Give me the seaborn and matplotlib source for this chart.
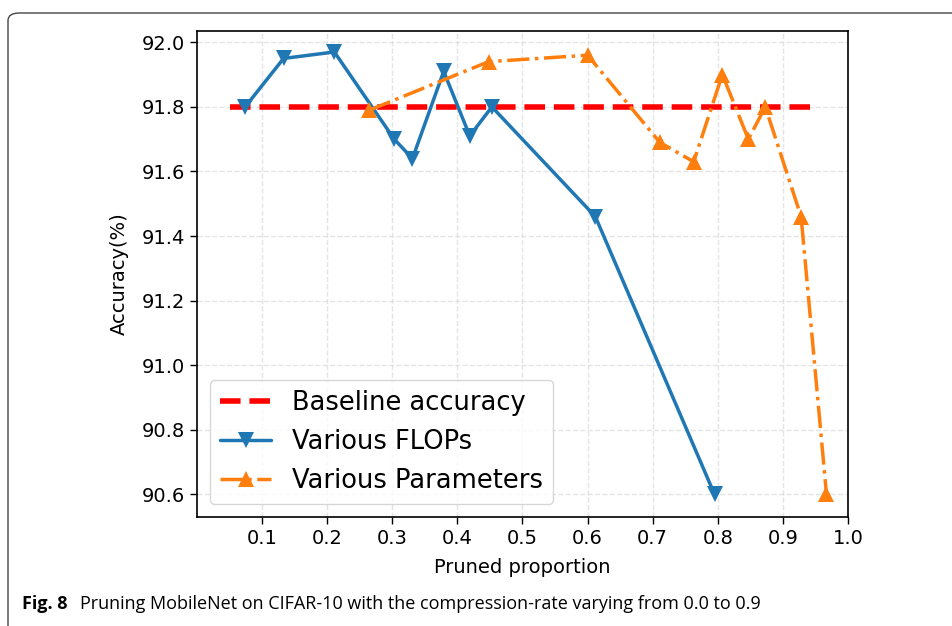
import numpy as np
import pandas as pd
import matplotlib
matplotlib.use('Agg')
import matplotlib.pyplot as plt
from matplotlib.patches import FancyBboxPatch
import seaborn as sns

# Data
flops_x = [0.074, 0.133, 0.211, 0.303, 0.331, 0.379, 0.419, 0.453, 0.612, 0.795]
flops_acc = [91.80, 91.95, 91.97, 91.70, 91.64, 91.91, 91.71, 91.80, 91.46, 90.60]

params_x = [0.265, 0.448, 0.600, 0.711, 0.763, 0.807, 0.847, 0.873, 0.928, 0.967]
params_acc = [91.79, 91.94, 91.96, 91.69, 91.63, 91.90, 91.70, 91.80, 91.46, 90.60]

baseline_x = [0.05, 0.95]
baseline_acc = [91.8, 91.8]

xtick_vals = [0.1, 0.2, 0.3, 0.4, 0.5, 0.6, 0.7, 0.8, 0.9, 1.0]

sns.set_style('ticks')
plt.rcParams['font.family'] = ['DejaVu Sans']
plt.rcParams['text.color'] = 'black'
plt.rcParams['axes.labelcolor'] = 'black'

fig = plt.figure(figsize=(9.53, 6.26), dpi=100)
ax = fig.add_axes([0.2067, 0.1741, 0.6831, 0.7764])

df_base = pd.DataFrame({'x': baseline_x, 'acc': baseline_acc})
df_flops = pd.DataFrame({'x': flops_x, 'acc': flops_acc})
df_params = pd.DataFrame({'x': params_x, 'acc': params_acc})

sns.lineplot(data=df_base, x='x', y='acc', ax=ax, color='red', linestyle='--',
             linewidth=4, label='Baseline accuracy')
sns.lineplot(data=df_flops, x='x', y='acc', ax=ax, color='#1f77b4', marker='v',
             markersize=11.5, markeredgewidth=0, linewidth=2.5, label='Various FLOPs')
sns.lineplot(data=df_params, x='x', y='acc', ax=ax, color='#ff7f0e', marker='^',
             markersize=11.5, markeredgewidth=0, linewidth=2.5, linestyle='-.',
             label='Various Parameters')

ax.set_xlim(0.0, 1.0)
ax.set_ylim(90.53, 92.035)
ax.set_xticks(xtick_vals)
ax.set_yticks([90.6, 90.8, 91.0, 91.2, 91.4, 91.6, 91.8, 92.0])
ax.tick_params(labelsize=14, length=5, width=1, direction='out', colors='black')
ax.grid(True, linestyle='--', color='#d9d9d9', linewidth=1, alpha=0.7)
for s in ax.spines.values():
    s.set_visible(True)
    s.set_color('black')
    s.set_linewidth(1.2)

ax.set_xlabel('Pruned proportion', fontsize=14, color='black', labelpad=7)
ax.set_ylabel('Accuracy(%)', fontsize=14, color='black', labelpad=9)

leg = ax.legend(loc='lower left', fontsize=18.5, frameon=True, fancybox=True,
                framealpha=0.8, edgecolor='#cccccc', borderaxespad=0.5)
for t in leg.get_texts():
    t.set_color('black')

# outer frame of the journal figure box
frame = FancyBboxPatch((8 / 953, -0.2), 1.3, 1.2 - 13 / 626,
                       boxstyle='round,pad=0,rounding_size=0.012',
                       transform=fig.transFigure, fill=False,
                       edgecolor='#444444', linewidth=1.0, clip_on=False)
fig.patches.append(frame)

fig.text(22 / 953, 1 - 604 / 626, 'Fig. 8', fontsize=13, fontweight='bold',
         family=['Open Sans', 'DejaVu Sans'], va='center', ha='left')
fig.text(80 / 953, 1 - 604 / 626,
         'Pruning MobileNet on CIFAR-10 with the compression-rate varying from 0.0 to 0.9',
         fontsize=13, family=['Open Sans', 'DejaVu Sans'], va='center', ha='left')

fig.savefig('out.png', dpi=100)
